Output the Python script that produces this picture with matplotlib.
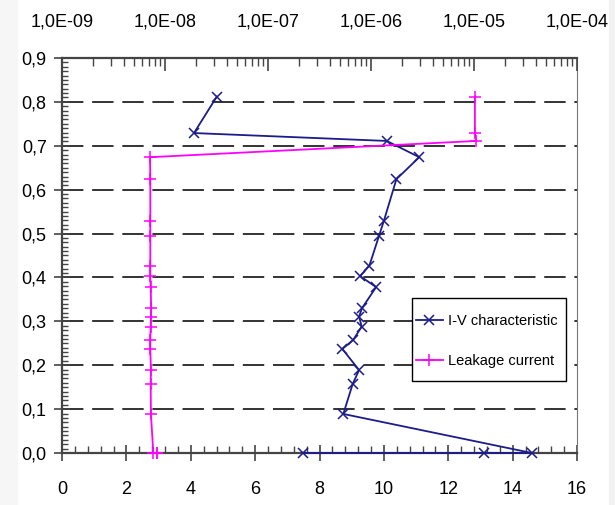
import matplotlib
matplotlib.use("Agg")
import matplotlib.pyplot as plt
from matplotlib.ticker import MultipleLocator, FuncFormatter, LogLocator, NullFormatter
from matplotlib.patches import Rectangle

plt.rcParams['font.family'] = ['Liberation Sans', 'DejaVu Sans']

# shared vertical values (V)
bias = [0.812, 0.729, 0.711, 0.674, 0.624, 0.529, 0.495, 0.427, 0.403, 0.378, 0.330,
        0.311, 0.288, 0.258, 0.237, 0.189, 0.157, 0.089, 0.0, 0.0, 0.0]
# I-V characteristic, bottom linear axis
iv_x = [4.81, 4.10, 10.09, 11.10, 10.39, 10.00, 9.85, 9.55, 9.26, 9.76, 9.32,
        9.23, 9.31, 9.05, 8.71, 9.23, 9.03, 8.74, 14.6, 13.1, 7.5]
# leakage current, top log axis
leak = [1.02e-5, 1.02e-5, 1.05e-5, 7.15e-9, 7.2e-9, 7.2e-9, 7.2e-9, 7.2e-9, 7.2e-9, 7.26e-9, 7.35e-9,
        7.3e-9, 7.26e-9, 7.2e-9, 7.2e-9, 7.3e-9, 7.26e-9, 7.3e-9, 7.7e-9, 8.3e-9, 8.3e-9]

top_ticks = [1e-9, 1e-8, 1e-7, 1e-6, 1e-5, 1e-4]

fig = plt.figure(figsize=(6.15, 5.05), dpi=100)
fig.patches.append(Rectangle((0, 0), 17/615, 1, transform=fig.transFigure, color='#f6f6f6', zorder=0))
fig.patches.append(Rectangle((609/615, 0), 6/615, 1, transform=fig.transFigure, color='#f2f2f2', zorder=0))

ax = fig.add_axes([62/615, 52/505, 515/615, 395/505])
ax.set_xlim(0, 16)
ax.set_ylim(0, 0.9)
ax.xaxis.set_major_locator(MultipleLocator(2))
ax.xaxis.set_minor_locator(MultipleLocator(0.4))
ax.yaxis.set_major_locator(MultipleLocator(0.1))
ax.yaxis.set_minor_locator(MultipleLocator(0.01))
ax.xaxis.set_major_formatter(FuncFormatter(lambda v, p: f"{v:.0f}"))
ax.yaxis.set_major_formatter(FuncFormatter(lambda v, p: f"{v:.1f}".replace('.', ',')))

ax.grid(axis='y', color='#333333', lw=1.4, linestyle=(0, (11, 4.5)))
ax.set_axisbelow(True)

for s in ['left', 'bottom']:
    ax.spines[s].set_color('#444444')
    ax.spines[s].set_linewidth(1.6)
ax.spines['right'].set_color('#777777')
ax.spines['right'].set_linewidth(0.8)
ax.spines['top'].set_visible(False)

ax.tick_params(axis='x', which='major', direction='inout', length=12, width=1.2,
               color='#444444', labelsize=13, pad=14)
ax.tick_params(axis='x', which='minor', direction='in', length=5, width=1, color='#444444')
ax.tick_params(axis='y', which='major', direction='inout', length=12, width=1.2,
               color='#444444', labelsize=13, pad=5)
ax.tick_params(axis='y', which='minor', direction='in', length=4, width=1, color='#444444')

l1, = ax.plot(iv_x, bias, color='#1c1c8a', lw=1.3, marker='x', ms=7, mew=1.1,
              label='I-V characteristic', clip_on=False, zorder=3)

ax2 = ax.twiny()
ax2.set_xscale('log')
ax2.set_xlim(1e-9, 1e-4)
ax2.set_xticks(top_ticks)
ax2.xaxis.set_major_formatter(FuncFormatter(lambda v, p: f"{v:.1E}".replace('.', ',')))
ax2.xaxis.set_minor_locator(LogLocator(base=10, subs=range(2, 10), numticks=20))
ax2.xaxis.set_minor_formatter(NullFormatter())
ax2.tick_params(axis='x', which='major', direction='in', length=9, width=1.2,
                color='#444444', labelsize=13, pad=20)
ax2.tick_params(axis='x', which='minor', direction='in', length=6, width=1, color='#444444')
ax2.spines['top'].set_color('#444444')
ax2.spines['top'].set_linewidth(1.6)
for s in ['left', 'bottom', 'right']:
    ax2.spines[s].set_visible(False)

l2, = ax2.plot(leak, bias, color='#ff00ff', lw=1.3, marker='+', ms=8, mew=1.1,
               label='Leakage current', clip_on=False, zorder=3)

# legend box drawn separately so horizontal and vertical padding can differ
ax2.add_patch(Rectangle((0.680, 0.182), 0.299, 0.210, transform=ax2.transAxes,
                        facecolor='white', edgecolor='black', lw=1.0, zorder=5))
leg = ax2.legend(handles=[l1, l2], loc='center left', bbox_to_anchor=(0.687, 0.283),
                 borderaxespad=0, borderpad=0, fontsize=10.5, frameon=False,
                 handlelength=1.85, handletextpad=0.34, labelspacing=1.75)
leg.set_zorder(6)

fig.savefig('out.png', dpi=100)
